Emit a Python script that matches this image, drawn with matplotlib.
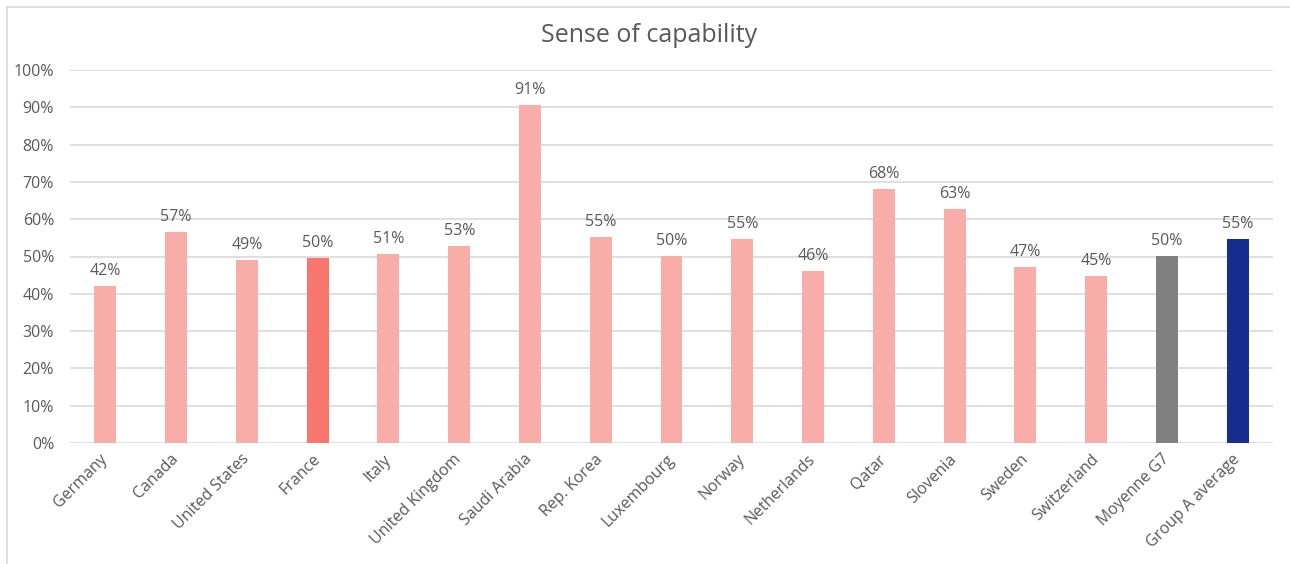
import matplotlib
matplotlib.use("Agg")
import matplotlib.pyplot as plt
from matplotlib.lines import Line2D
from matplotlib.ticker import PercentFormatter

categories = ["Germany", "Canada", "United States", "France", "Italy",
              "United Kingdom", "Saudi Arabia", "Rep. Korea", "Luxembourg",
              "Norway", "Netherlands", "Qatar", "Slovenia", "Sweden",
              "Switzerland", "Moyenne G7", "Group A average"]
values = [42.0, 56.7, 49.1, 49.6, 50.7, 52.8, 90.7, 55.3, 50.1,
          54.6, 46.0, 68.0, 62.7, 47.1, 44.8, 50.1, 54.7]

PINK = "#F9ADA8"
colors = [PINK] * len(categories)
colors[categories.index("France")] = "#F8766D"
colors[categories.index("Moyenne G7")] = "#808080"
colors[categories.index("Group A average")] = "#172D8F"

TEXT = "#595959"
FONT = "Open Sans"

fig = plt.figure(figsize=(12.9, 5.64), dpi=100)
W, H = 1290, 564

# light frame along the left and top of the chart area
frame_kw = dict(transform=fig.transFigure, color="#D9D9D9", linewidth=1.2)
fig.lines.append(Line2D([6.5 / W, 6.5 / W], [0, 1 - 7 / H], **frame_kw))
fig.lines.append(Line2D([6.5 / W, 1], [1 - 7 / H, 1 - 7 / H], **frame_kw))

ax = fig.add_axes([70 / W, 1 - 443 / H, (1273 - 70) / W, (443 - 70) / H])
x = range(len(categories))
bars = ax.bar(x, [v / 100 for v in values], width=0.31, color=colors, zorder=3)

ax.set_xlim(-0.5, len(categories) - 0.5)
ax.set_ylim(0, 1)
ax.set_yticks([i / 10 for i in range(11)])
ax.yaxis.set_major_formatter(PercentFormatter(1.0, decimals=0))
ax.grid(axis="y", color="#D9D9D9", linewidth=1.2, zorder=0)
for s in ax.spines.values():
    s.set_visible(False)
ax.tick_params(axis="both", length=0, colors=TEXT, labelsize=11.5)
ax.tick_params(axis="y", pad=11.5)
ax.set_xticks(list(x))
ax.set_xticklabels(categories, rotation=45, ha="right", va="center",
                   rotation_mode="anchor", fontfamily=FONT, color=TEXT, fontsize=11.5)
for lab in ax.get_yticklabels():
    lab.set_fontfamily(FONT)
ax.tick_params(axis="x", pad=10)

for rect, v in zip(bars, values):
    ax.annotate(f"{v:.0f}%", (rect.get_x() + rect.get_width() / 2, v / 100),
                xytext=(0, 5), textcoords="offset points", ha="center", va="bottom",
                fontsize=11.5, color=TEXT, fontfamily=FONT)

fig.text(649 / W, 1 - 36 / H, "Sense of capability", ha="center", va="center",
         fontsize=18, color=TEXT, fontfamily=FONT)

fig.savefig("out.png", dpi=100)
